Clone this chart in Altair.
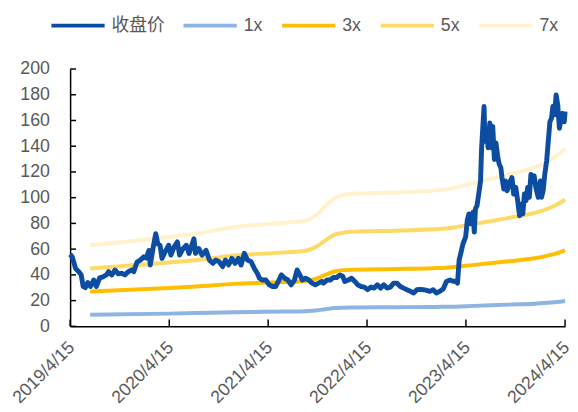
import altair as alt
import pandas as pd

# ---------------- data ----------------
price_dates = [
    "2019-04-15", "2019-04-23", "2019-05-05", "2019-05-17", "2019-05-26", "2019-06-02",
    "2019-06-10", "2019-06-19", "2019-06-29", "2019-07-11", "2019-07-21", "2019-08-02",
    "2019-08-14", "2019-08-27", "2019-09-04", "2019-09-16", "2019-09-28", "2019-10-10",
    "2019-10-22", "2019-11-03", "2019-11-16", "2019-11-28", "2019-12-06", "2019-12-18",
    "2019-12-30", "2020-01-12", "2020-01-21", "2020-01-31", "2020-02-05", "2020-02-15",
    "2020-02-25", "2020-03-04", "2020-03-12", "2020-03-19", "2020-03-31", "2020-04-13",
    "2020-04-21", "2020-05-03", "2020-05-15", "2020-05-23", "2020-06-05", "2020-06-17",
    "2020-06-27", "2020-07-11", "2020-07-15", "2020-07-21", "2020-08-02", "2020-08-14",
    "2020-08-29", "2020-09-10", "2020-09-23", "2020-10-04", "2020-10-16", "2020-10-29",
    "2020-11-08", "2020-11-20", "2020-12-02", "2020-12-14", "2020-12-26", "2021-01-05",
    "2021-01-17", "2021-01-29", "2021-02-11", "2021-02-23", "2021-03-06", "2021-03-14",
    "2021-03-25", "2021-04-07", "2021-04-19", "2021-05-01", "2021-05-13", "2021-05-25",
    "2021-06-03", "2021-06-15", "2021-06-27", "2021-07-09", "2021-07-21", "2021-07-31",
    "2021-08-10", "2021-08-19", "2021-08-31", "2021-09-12", "2021-09-24", "2021-10-06",
    "2021-10-18", "2021-10-30", "2021-11-05", "2021-11-18", "2021-11-30", "2021-12-12",
    "2021-12-24", "2022-01-05", "2022-01-15", "2022-01-23", "2022-02-05", "2022-02-17",
    "2022-03-01", "2022-03-12", "2022-03-23", "2022-04-05", "2022-04-17", "2022-04-29",
    "2022-05-11", "2022-05-23", "2022-06-04", "2022-06-16", "2022-06-28", "2022-07-10",
    "2022-07-22", "2022-08-03", "2022-08-16", "2022-08-28", "2022-09-09", "2022-09-22",
    "2022-10-04", "2022-10-16", "2022-10-28", "2022-11-09", "2022-11-21", "2022-12-03",
    "2022-12-15", "2022-12-27", "2023-01-09", "2023-01-21", "2023-02-02", "2023-02-15",
    "2023-02-27", "2023-03-08", "2023-03-15", "2023-03-21", "2023-03-27", "2023-04-04",
    "2023-04-14", "2023-04-20", "2023-04-26", "2023-05-02", "2023-05-11", "2023-05-16",
    "2023-05-20", "2023-05-26", "2023-06-02", "2023-06-08", "2023-06-12", "2023-06-17",
    "2023-06-21", "2023-06-24", "2023-06-30", "2023-07-06", "2023-07-12", "2023-07-18",
    "2023-07-23", "2023-07-29", "2023-08-04", "2023-08-11", "2023-08-16", "2023-08-22",
    "2023-08-26", "2023-09-02", "2023-09-08", "2023-09-14", "2023-09-20", "2023-09-26",
    "2023-10-02", "2023-10-08", "2023-10-16", "2023-10-23", "2023-10-30", "2023-11-05",
    "2023-11-11", "2023-11-17", "2023-11-23", "2023-11-29", "2023-12-05", "2023-12-11",
    "2023-12-17", "2023-12-23", "2023-12-29", "2024-01-07", "2024-01-15", "2024-01-19",
    "2024-01-25", "2024-01-31", "2024-02-07", "2024-02-13", "2024-02-19", "2024-02-25",
    "2024-03-01", "2024-03-07", "2024-03-13", "2024-03-19", "2024-03-25", "2024-03-31",
    "2024-04-06", "2024-04-12", "2024-04-15",
]
price_values = [
    56, 54, 45, 42.5, 40, 31,
    30, 34, 31, 36, 31, 37.7,
    38.5, 40, 42.5, 40, 43.8, 40.8,
    41.3, 40, 42.5, 43.8, 42.5, 50,
    51.5, 54, 53, 59, 47.7, 60.5,
    72, 64, 63, 52.8, 58, 63,
    55.4, 61.8, 65.6, 55.4, 60.5, 63,
    56.7, 65.6, 68, 56.7, 60.5, 55.4,
    59, 51.5, 49, 51.5, 50.2, 46.4,
    51.5, 47.7, 52.8, 49, 52.8, 47.7,
    56.7, 51.5, 50.2, 45, 41.3, 37.4,
    36, 36, 32.3, 31, 31, 36,
    40, 37.4, 36, 32.3, 36, 43.8,
    40, 36, 37.4, 36, 33.6, 32.3,
    33.6, 35, 33.6, 36, 36, 38,
    38, 40, 39, 34.9, 36, 37.4,
    34.9, 32.3, 31, 30.5, 28.5, 30.5,
    29.7, 32.3, 29.7, 32.3, 29.7, 30.5,
    33.6, 33.6, 31, 29.7, 28.5, 27.2,
    25.9, 28.5, 28.7, 28.5, 28, 27.2,
    28.5, 25.9, 27.2, 29, 34.9, 36,
    35, 35, 33.6, 51.5, 56.7, 64,
    69.5, 82.3, 87.4, 79.7, 88.7, 73.3,
    91.3, 93.8, 104, 113, 138.7, 156.7,
    170.8, 143.8, 151.5, 138.7, 158, 138.7,
    155.4, 129.7, 142.5, 131, 126, 123.3,
    115.6, 106.7, 113, 105.4, 109, 113,
    115.6, 102.8, 108, 97.7, 86, 95,
    87.4, 102.8, 97.7, 108, 100.3, 118,
    113, 117, 108, 100.3, 113, 100.3,
    105.4, 118, 128.5, 143.8, 159, 161.8,
    170.8, 164.4, 179.8, 172, 154, 160.5,
    165.6, 159, 167,
]

band_dates = [
    "2019-06-28", "2020-04-15", "2020-07-21", "2020-12-10", "2021-06-15", "2021-08-31",
    "2021-09-25", "2021-10-18", "2021-11-05", "2021-11-22", "2021-12-15", "2022-01-09",
    "2022-03-01", "2022-08-01", "2022-12-15", "2023-02-01", "2023-05-16", "2023-09-20",
    "2023-12-25", "2024-02-15", "2024-03-15", "2024-04-15",
]
band_1x = [9.0, 9.9, 10.3, 11.0, 11.5, 11.8, 12.1, 12.6, 13.1, 13.6, 14.2, 14.5,
           14.7, 14.9, 15.1, 15.2, 15.9, 16.9, 17.6, 18.4, 18.9, 19.7]
band_3x = [27.0, 29.8, 30.9, 33.0, 34.5, 35.3, 36.2, 37.7, 39.4, 40.9, 42.6, 43.5,
           44.1, 44.6, 45.2, 45.6, 47.8, 50.6, 52.9, 55.1, 56.8, 59.1]
band_5x = [45.0, 49.6, 51.4, 55.0, 57.5, 58.8, 60.4, 62.9, 65.7, 68.2, 71.1, 72.5,
           73.6, 74.3, 75.4, 76.1, 79.6, 84.3, 88.2, 91.8, 94.6, 98.6]
band_7x = [63.0, 69.5, 72.0, 77.0, 80.5, 82.3, 84.5, 88.0, 92.0, 95.5, 99.5, 101.5,
           103.0, 104.0, 105.5, 106.5, 111.5, 118.0, 123.5, 128.5, 132.5, 138.0]

series_names = ["收盘价", "1x", "3x", "5x", "7x"]
series_colors = ["#0C4DA2", "#8DB4E2", "#FFBE00", "#FFD966", "#FFF2CC"]
y_ticks = [0, 20, 40, 60, 80, 100, 120, 140, 160, 180, 200]
x_tick_years = [2019, 2020, 2021, 2022, 2023, 2024]

# ---------------- tables ----------------
price_df = pd.DataFrame({"date": price_dates, "value": price_values, "series": "收盘价"})
band_df = pd.concat(
    [pd.DataFrame({"date": band_dates, "value": vals, "series": name})
     for name, vals in zip(series_names[1:], [band_1x, band_3x, band_5x, band_7x])],
    ignore_index=True,
)
ytick_df = pd.DataFrame({"value": y_ticks})
xtick_df = pd.DataFrame({"date": [f"{y}-04-15" for y in x_tick_years]})

FONT = "Liberation Sans, Arial, Noto Sans CJK SC"
GREY = "#595959"

def dt(y):
    return alt.DateTime(year=y, month=4, date=15, utc=True)

x_scale = alt.Scale(type="utc", domain=[dt(2019), dt(2024)])
y_scale = alt.Scale(domain=[0, 200], nice=False)

x_axis = alt.Axis(values=[dt(y) for y in x_tick_years],
                  labelExpr="utcFormat(datum.value, '%Y/%-m/%-d')",
                  labelAngle=-45, labelAlign="right", labelBaseline="top",
                  labelPadding=12, labelOffset=-5, ticks=False, grid=False,
                  labelFontSize=18, labelColor=GREY, labelFont=FONT,
                  labelOverlap=False, labelFlush=False, labelBound=False,
                  domainColor="black", domainWidth=1.5)
y_axis = alt.Axis(values=y_ticks, ticks=False, grid=False, labelPadding=21,
                  labelFontSize=18, labelColor=GREY, labelFont=FONT,
                  labelOverlap=False, labelFlush=False,
                  domainColor="black", domainWidth=1.5)

x_enc = alt.X("date:T", scale=x_scale, title=None, axis=x_axis)
y_enc = alt.Y("value:Q", scale=y_scale, title=None, axis=y_axis)
color_enc = alt.Color(
    "series:N",
    scale=alt.Scale(domain=series_names, range=series_colors),
    legend=alt.Legend(orient="none", legendX=-21, legendY=-73, direction="horizontal",
                      columns=5, title=None, symbolType="stroke", symbolSize=2916,
                      symbolStrokeWidth=4, labelFontSize=18, labelColor=GREY,
                      labelFont=FONT, labelOffset=5, columnPadding=11, padding=0),
)

bands = alt.Chart(band_df).mark_line(strokeWidth=4, interpolate="monotone").encode(
    x=x_enc, y=y_enc, color=color_enc
)
price = alt.Chart(price_df).mark_line(strokeWidth=5, strokeJoin="round").encode(
    x=x_enc, y=y_enc, color=color_enc
)
ytick = alt.Chart(ytick_df).mark_rule(color="black", strokeWidth=1.5).encode(
    y=y_enc, x=alt.value(0), x2=alt.value(6)
)
xtick = alt.Chart(xtick_df).mark_rule(color="black", strokeWidth=1.5).encode(
    x=x_enc, y=alt.value(261), y2=alt.value(254)
)

chart = alt.layer(bands, price, ytick, xtick).properties(
    width=502, height=261,
    autosize=alt.AutoSizeParams(type="none"),
    padding={"left": 63, "top": 59, "right": 5, "bottom": 84},
).configure_view(strokeWidth=0)

chart.save("out.html", embed_options={"renderer": "svg", "actions": False})
